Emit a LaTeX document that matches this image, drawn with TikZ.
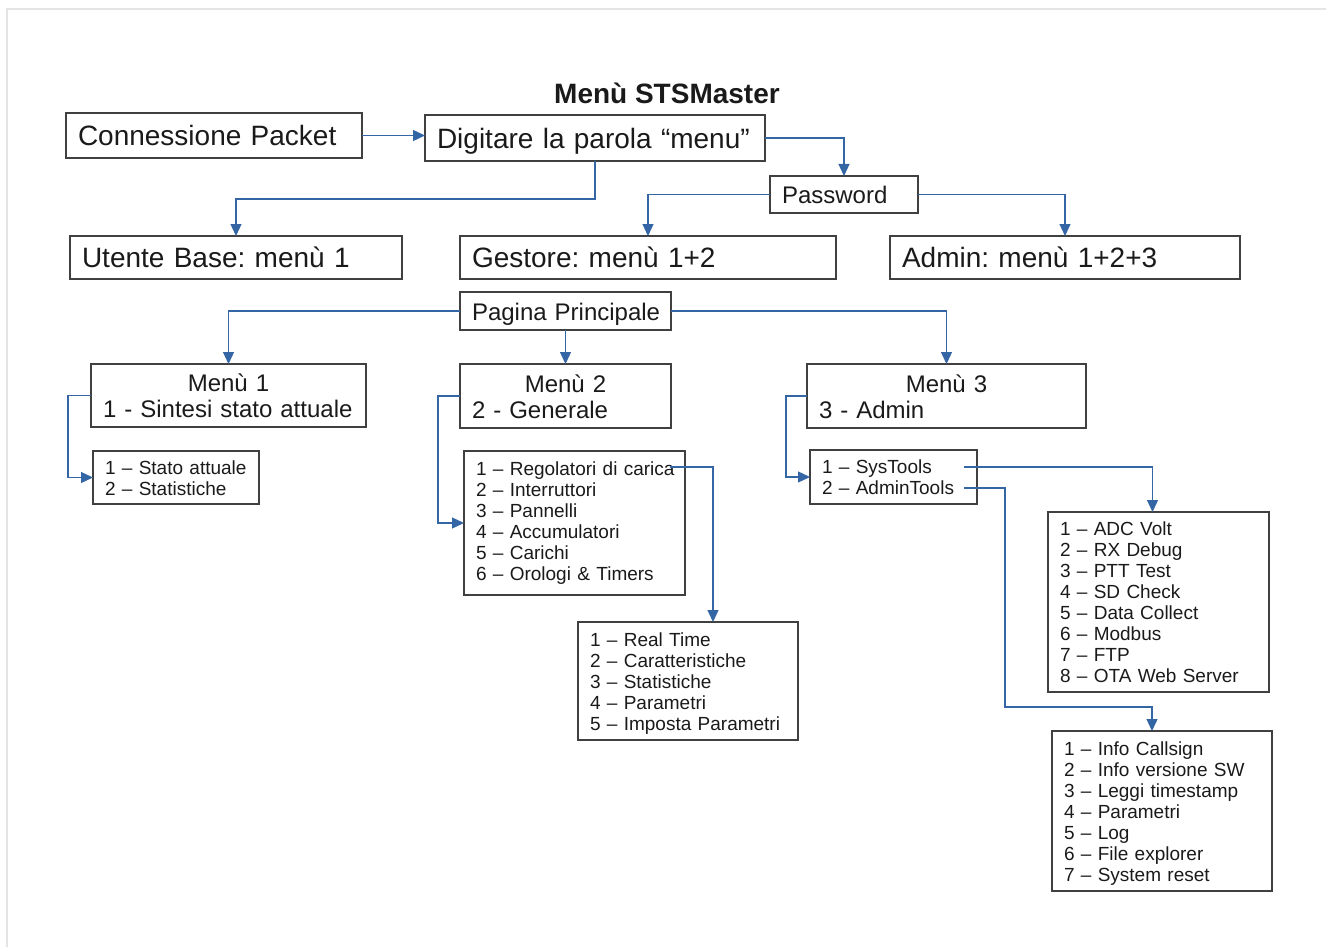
\documentclass[tikz,border=0pt]{standalone}
\usepackage{fontspec}
\setmainfont{Liberation Sans}
\usetikzlibrary{arrows.meta}
\definecolor{lnblue}{HTML}{3465A4}
\definecolor{bdr}{HTML}{404040}
\definecolor{txt}{HTML}{1A1A1A}
\definecolor{framec}{HTML}{E4E4E4}
\frenchspacing
\newcommand\mybox[7]{%
  \pgfmathsetmacro\bxw{#4-#2}\pgfmathsetmacro\bxh{#5-#3}\pgfmathsetmacro\bxt{#4-#2-24}%
  \node[box,#6,minimum width=\bxw pt,minimum height=\bxh pt,text width=\bxt pt] (#1) at (#2,#3)
    {\raisebox{-\tshift}[\height][\depth]{\begin{tabular}{@{}l@{}}#7\end{tabular}}};}
\tikzset{
  box/.style={draw=bdr, line width=1.5pt, anchor=north west, inner xsep=12pt, inner ysep=0pt,
    outer sep=0pt, align=left, text=txt},
  big/.style={font=\fontsize{28}{32}\selectfont\frenchspacing\def\tshift{4pt}},
  med/.style={font=\fontsize{24}{26}\selectfont\frenchspacing\def\tshift{4pt}},
  small/.style={font=\fontsize{19}{21}\selectfont\frenchspacing\def\tshift{3pt}},
  smalltop/.style={font=\fontsize{19}{21}\selectfont\frenchspacing\def\tshift{1pt}},
  titlestyle/.style={font=\bfseries\fontsize{28}{32}\selectfont, text=txt, anchor=base, inner sep=0pt},
  conn/.style={draw=lnblue, line width=1.3pt},
  arr/.style={conn, -{Triangle[length=12pt,width=11pt]}},
}
\begin{document}
\frenchspacing
\begin{tikzpicture}[x=1pt,y=-1pt]
\useasboundingbox (0,0) rectangle (1326,947);
\draw[framec, line width=1.2pt] (7,947) -- (7,9) -- (1326,9);
\node[titlestyle] (title) at (667,104) {Menù STSMaster};
\mybox{conn}{66}{113}{362}{158}{big}{Connessione Packet}
\mybox{dig}{425}{115}{765}{161}{big}{Digitare la parola “menu”}
\mybox{pw}{770}{176}{918}{213}{med}{Password}
\mybox{ub}{70}{236}{402}{279}{big}{Utente Base: menù 1}
\mybox{ges}{460}{236}{836}{279}{big}{Gestore: menù 1+2}
\mybox{adm}{890}{236}{1240}{279}{big}{Admin: menù 1+2+3}
\mybox{pp}{460}{292}{671}{330}{med}{Pagina Principale}
\mybox{m1}{91}{364}{366}{427}{med}{\makebox[\bxt pt]{Menù 1}\\1 - Sintesi stato attuale}
\mybox{m2}{460}{364}{671}{428}{med}{\makebox[\bxt pt]{Menù 2}\\2 - Generale}
\mybox{m3}{807}{364}{1086}{428}{med}{\makebox[\bxt pt]{Menù 3}\\3 - Admin}
\mybox{st}{93}{451}{259}{504}{small}{1 – Stato attuale\\2 – Statistiche}
\mybox{reg}{464}{451}{685}{595}{smalltop}{1 – Regolatori di carica\\2 – Interruttori\\3 – Pannelli\\4 – Accumulatori\\5 – Carichi\\6 – Orologi \& Timers}
\mybox{rt}{578}{622}{798}{740}{small}{1 – Real Time\\2 – Caratteristiche\\3 – Statistiche\\4 – Parametri\\5 – Imposta Parametri}
\mybox{sys}{810}{450}{977}{504}{small}{1 – SysTools\\2 – AdminTools}
\mybox{adc}{1048}{512}{1269}{692}{small}{1 – ADC Volt\\2 – RX Debug\\3 – PTT Test\\4 – SD Check\\5 – Data Collect\\6 – Modbus\\7 – FTP\\8 – OTA Web Server}
\mybox{info}{1052}{731}{1272}{891}{small}{1 – Info Callsign\\2 – Info versione SW\\3 – Leggi timestamp\\4 – Parametri\\5 – Log\\6 – File explorer\\7 – System reset}
% connectors
\draw[arr] (conn.east) -- (conn.east -| dig.west);
\draw[arr] (dig.east) -| (pw.north);
\coordinate (c1) at (595,199);
\draw[arr] (c1 |- dig.south) -- (c1) -| (ub.north);
\draw[arr] (pw.west) -| (ges.north);
\draw[arr] (pw.east) -| (adm.north);
\draw[arr] (pp.west) -| (m1.north);
\draw[arr] (pp.south) -- (m2.north);
\draw[arr] (pp.east) -| (m3.north);
\draw[arr] (m1.west) -- ++(-23,0) |- (st.west);
\draw[arr] (m2.west) -- ++(-22,0) |- (reg.west);
\draw[arr] (m3.west) -- ++(-21,0) |- (sys.west);
\coordinate (r1) at (670,467);
\draw[arr] (r1) -| ([xshift=25pt]rt.north);
\coordinate (s1) at (964,467);
\draw[arr] (s1) -| ([xshift=-6pt]adc.north);
\coordinate (s2) at (964,488);
\coordinate (s3) at (1005,707);
\draw[arr] (s2) -| (s3) -| ([xshift=-10pt]info.north);
\end{tikzpicture}
\end{document}
